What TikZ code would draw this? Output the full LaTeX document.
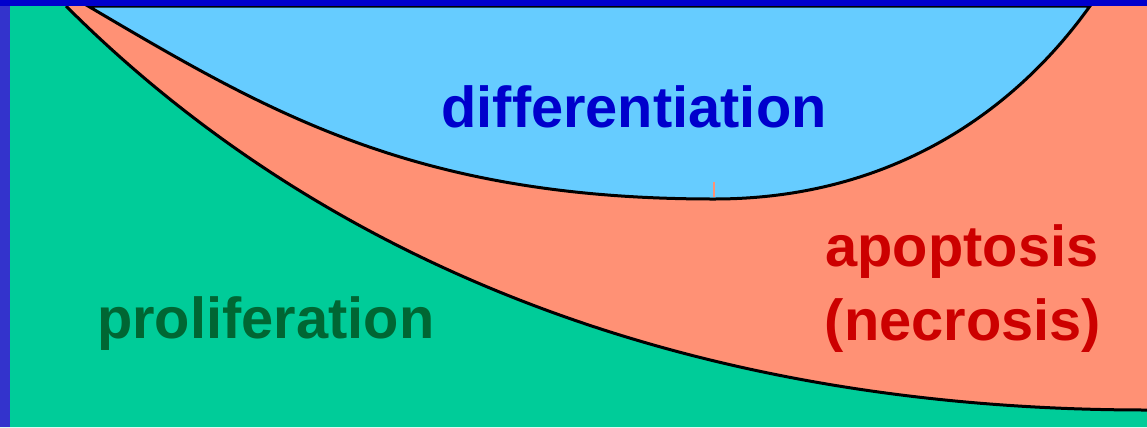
\documentclass[tikz,border=0pt]{standalone}
\usepackage{fontspec}
\setmainfont{Liberation Sans}
\usepackage{xcolor}
\usepackage{tikz}
\usetikzlibrary{positioning}
\definecolor{PGreen}{HTML}{00CC99}
\definecolor{PSalmon}{HTML}{FF9175}
\definecolor{PSky}{HTML}{66CCFF}
\definecolor{PBlueText}{HTML}{0000CC}
\definecolor{PRedText}{HTML}{CC0000}
\definecolor{PGreenText}{HTML}{006633}
\definecolor{PBar}{HTML}{3333CC}

\begin{document}
\begin{tikzpicture}[x=1bp, y=-1bp,
  region/.style={draw=black, line width=3bp},
  label/.style={font=\fontsize{58}{64}\selectfont\bfseries, inner sep=0pt, anchor=base}]
\useasboundingbox (0,0) rectangle (1147,427);
\fill[PSalmon] (0,0) rectangle (1147,427);
% proliferation
\fill[PGreen] (66,6) .. controls (330,270) and (700,410) .. (1147,410)
  -- (1147,427) -- (0,427) -- (0,6) -- cycle;
\draw[region] (66,6) .. controls (330,270) and (700,410) .. (1147,410);
% differentiation
\filldraw[region, fill=PSky] (88,6) .. controls (268,112) and (414,199) .. (714,199)
  .. controls (884,199) and (1010,118) .. (1090,6) -- cycle;
\draw[PSalmon, line width=2bp] (714,182) -- (714,197);
% frame
\fill[PBar] (0,0) rectangle (10,427);
\fill[PBlueText] (0,0) rectangle (1147,6);
\node[label, text=PBlueText] (diff) at (634,127) {differentiation};
\node[label, text=PGreenText, anchor=base west] (prol) at (97,338) {proliferation};
\node[label, text=PRedText] (apop) at (962,266) {apoptosis};
\node[label, text=PRedText] (necr) at (963,340) {(necrosis)};
\end{tikzpicture}
\end{document}
